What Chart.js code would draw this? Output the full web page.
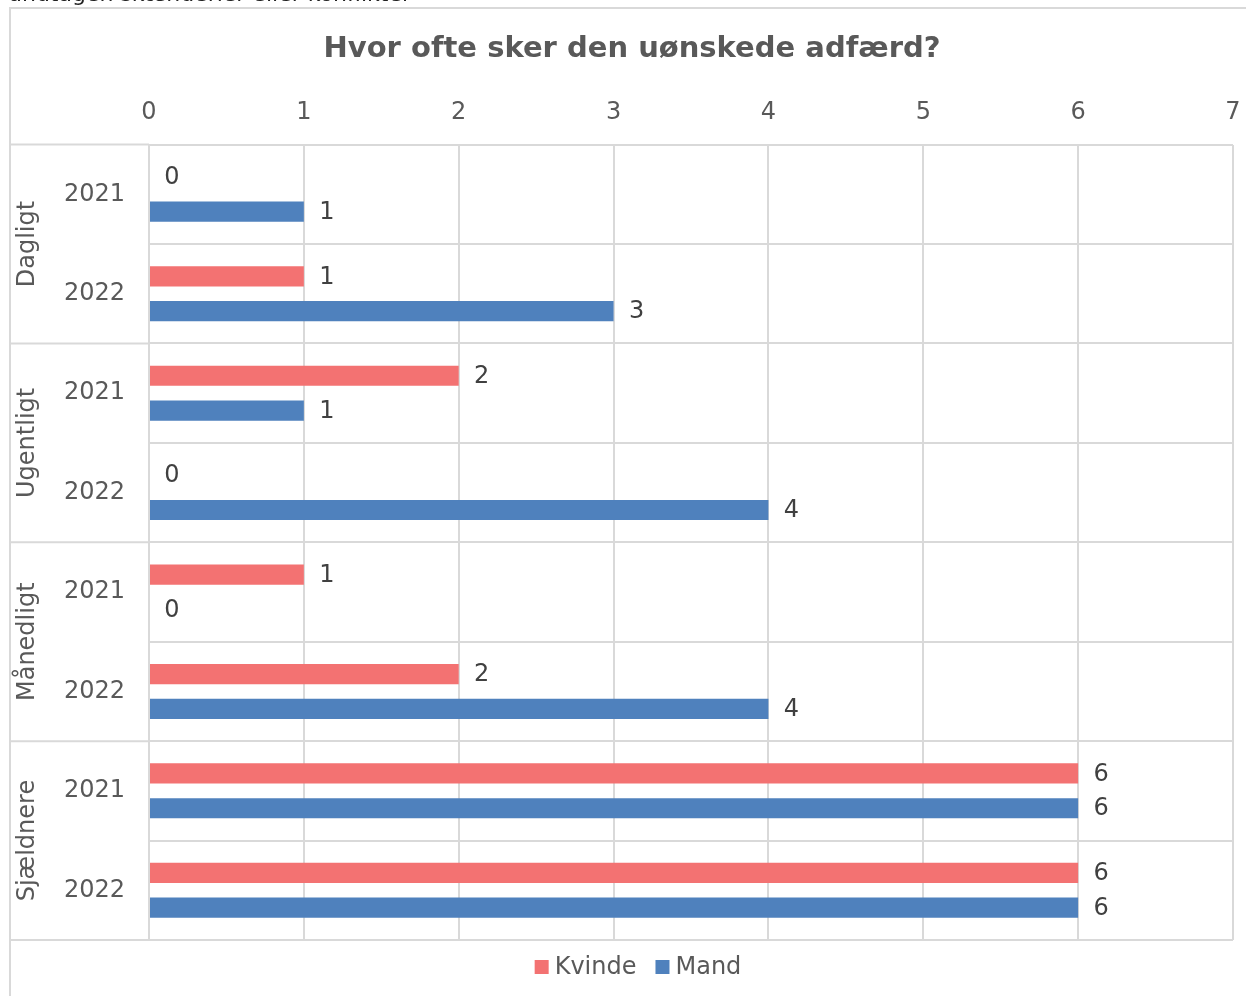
<!DOCTYPE html>
<html><head><meta charset="utf-8">
<script src="https://cdn.jsdelivr.net/npm/chart.js@4"></script>
<style>
html,body{margin:0;padding:0;background:#fff;overflow:hidden;}
#wrap{position:relative;width:1246px;height:996px;}
#top{position:absolute;left:8px;top:-19px;font:22px "DejaVu Sans",sans-serif;color:#222;white-space:nowrap;z-index:2;}
canvas{position:absolute;left:0;top:0;}
</style></head>
<body><div id="wrap"><div id="top">undtagen skænderier eller konflikter</div><canvas id="c" width="1246" height="996"></canvas></div>
<script>
const groups = ["Dagligt","Ugentligt","Månedligt","Sjældnere"];
const categories = ["2021","2022","2021","2022","2021","2022","2021","2022"];
const kvinde = [0,1,2,0,1,2,6,6];
const mand = [1,3,1,4,0,4,6,6];
const xTicks = [0,1,2,3,4,5,6,7];
const titleText = "Hvor ofte sker den uønskede adfærd?";

const FONT = '"DejaVu Sans", Verdana, sans-serif';
const GRID = '#d9d9d9';

const framePlugin = {
  id:'frame',
  beforeDraw(chart){
    const ctx = chart.ctx;
    ctx.save();
    ctx.fillStyle='#fff';
    ctx.fillRect(0,0,chart.width,chart.height);
    ctx.strokeStyle=GRID; ctx.lineWidth=2;
    ctx.strokeRect(10,8,chart.width+20,chart.height+20);
    ctx.restore();
  },
  afterDraw(chart){
    const ctx = chart.ctx, y = chart.scales.y, area = chart.chartArea;
    const n = categories.length, per = categories.length/groups.length;
    const step = (area.bottom-area.top)/n;
    ctx.save();
    ctx.strokeStyle=GRID; ctx.lineWidth=2;
    for(let g=0; g<=groups.length; g++){
      const py = y.getPixelForValue(g*per) - step/2;
      ctx.beginPath(); ctx.moveTo(10,py); ctx.lineTo(area.left,py); ctx.stroke();
    }
    ctx.fillStyle='#595959';
    ctx.font='24px '+FONT;
    ctx.textAlign='center'; ctx.textBaseline='middle';
    groups.forEach((g,i)=>{
      const cy = (y.getPixelForValue(i*per)+y.getPixelForValue(i*per+per-1))/2;
      ctx.save(); ctx.translate(28,cy); ctx.rotate(-Math.PI/2); ctx.fillText(g,0,0); ctx.restore();
    });
    // value labels
    ctx.fillStyle='#404040';
    chart.data.datasets.forEach((ds,di)=>{
      chart.getDatasetMeta(di).data.forEach((bar,i)=>{
        ctx.fillText(String(ds.data[i]), bar.x+23, bar.y+1);
      });
    });
    // legend
    ctx.font='24px '+FONT;
    ctx.textAlign='left';
    const items = chart.data.datasets.map(ds=>({t:ds.label,c:ds.backgroundColor,w:ctx.measureText(ds.label).width}));
    const box=14, gap=6, sep=19;
    let total = items.reduce((s,it)=>s+box+gap+it.w,0)+sep*(items.length-1);
    let lx = (area.left+area.right)/2 - total/2 - 53;
    const ly = area.bottom + 27;
    items.forEach(it=>{
      ctx.fillStyle=it.c; ctx.fillRect(lx, ly-7, box, box);
      ctx.fillStyle='#595959'; ctx.fillText(it.t, lx+box+gap, ly+1);
      lx += box+gap+it.w+sep;
    });
    ctx.restore();
  }
};

new Chart(document.getElementById('c'),{
  type:'bar',
  data:{labels:categories,datasets:[
    {label:'Kvinde',data:kvinde,backgroundColor:'#F37272',categoryPercentage:0.7,barPercentage:0.58},
    {label:'Mand',data:mand,backgroundColor:'#4F81BD',categoryPercentage:0.7,barPercentage:0.58}
  ]},
  options:{
    indexAxis:'y',responsive:false,animation:false,devicePixelRatio:1,
    layout:{padding:{top:8,left:18,right:0,bottom:56}},
    plugins:{
      title:{display:true,text:titleText,color:'#595959',font:{family:FONT,size:29,weight:'bold'},padding:{top:24,bottom:15}},
      legend:{display:false},
      tooltip:{enabled:false}
    },
    scales:{
      x:{position:'top',min:0,max:7,afterBuildTicks(s){s.ticks=xTicks.map(v=>({value:v}));},
         afterFit(s){s.paddingRight=13;s.paddingLeft=0;},
         ticks:{color:'#595959',font:{family:FONT,size:24},padding:17},
         grid:{color:GRID,lineWidth:2,drawTicks:false},border:{display:false}},
      y:{afterFit(s){s.width=131;},
         ticks:{color:'#595959',font:{family:FONT,size:24},padding:24},
         grid:{color:GRID,lineWidth:2,offset:true,drawTicks:false},border:{color:GRID,width:2}}
    }
  },
  plugins:[framePlugin]
});
</script></body></html>
